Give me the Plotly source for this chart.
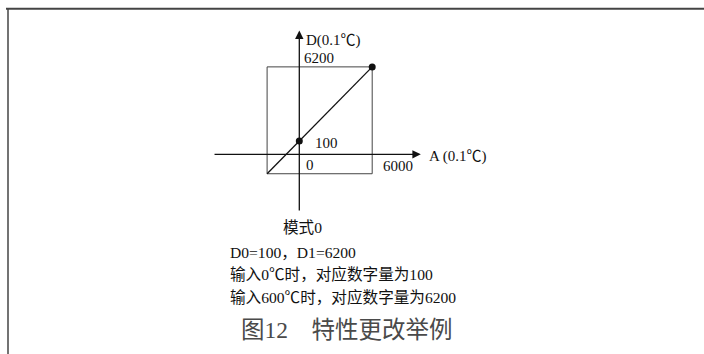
"""Mode 0 characteristic change example (A -> D) drawn as a schematic with Plotly."""

import plotly.graph_objects as go

# characteristic points: input A and output D, both in 0.1 degC
a_points = [0, 6000]
d_points = [100, 6200]
a_tick_labels = ["0", "6000"]
d_tick_labels = ["100", "6200"]
mode_label = "模式0"
figure_title = "图12　特性更改举例"

# schematic extents (not to scale)
line_a_start = -2650
axis_a_span = [-7100, 10000]
axis_d_level = -1000
axis_d_span = [-5750, 9200]

# screen mapping: equal units per pixel on both axes
W, H = 704, 354
UNITS_PER_PX = 82.3
ORIGIN_PX = (299.3, 141.0)  # pixel position of (A=0, D=100)

FONT = "Liberation Serif, Noto Sans CJK SC"
INK = "#111111"


def px(x, y):
    return x / W, 1 - y / H


slope = (d_points[1] - d_points[0]) / (a_points[1] - a_points[0])
line_d_start = d_points[0] + slope * (line_a_start - a_points[0])

x_range = [-ORIGIN_PX[0] * UNITS_PER_PX, (W - ORIGIN_PX[0]) * UNITS_PER_PX]
y_range = [d_points[0] - (H - ORIGIN_PX[1]) * UNITS_PER_PX, d_points[0] + ORIGIN_PX[1] * UNITS_PER_PX]

fig = go.Figure()

# range box
fig.add_trace(
    go.Scatter(
        x=[line_a_start, a_points[1], a_points[1], line_a_start, line_a_start],
        y=[line_d_start, line_d_start, d_points[1], d_points[1], line_d_start],
        mode="lines",
        line=dict(color="#444444", width=1),
        hoverinfo="skip",
    )
)

# characteristic line
fig.add_trace(
    go.Scatter(
        x=[line_a_start, a_points[1]],
        y=[line_d_start, d_points[1]],
        mode="lines",
        line=dict(color=INK, width=1.3),
        hoverinfo="skip",
    )
)
fig.add_trace(
    go.Scatter(
        x=[a_points[0], a_points[1]],
        y=[d_points[0], d_points[1]],
        mode="markers",
        marker=dict(color=INK, size=7),
        hoverinfo="skip",
    )
)

arrow = dict(
    text="", showarrow=True, axref="x", ayref="y", xref="x", yref="y",
    arrowhead=2, arrowsize=1.3, arrowwidth=1.3, arrowcolor=INK, standoff=0,
)
# A axis
fig.add_annotation(x=axis_a_span[1], y=axis_d_level, ax=axis_a_span[0], ay=axis_d_level, **arrow)
# D axis
fig.add_annotation(x=0, y=axis_d_span[1], ax=0, ay=axis_d_span[0], **arrow)

label = dict(showarrow=False, xref="x", yref="y", xanchor="left", yanchor="middle",
             font=dict(family=FONT, size=15, color=INK))
fig.add_annotation(x=0, y=axis_d_span[1], text="D(0.1℃)", xshift=5, yshift=-10, **label)
fig.add_annotation(x=axis_a_span[1], y=axis_d_level, text="A (0.1℃)", xshift=6, yshift=-2, **label)
fig.add_annotation(x=0, y=d_points[1], text=d_tick_labels[1], xshift=3, yshift=9, **label)
fig.add_annotation(x=0, y=d_points[0], text=d_tick_labels[0], xshift=14, yshift=-2, **label)
fig.add_annotation(x=a_points[0], y=axis_d_level, text=a_tick_labels[0], xshift=5, yshift=-11, **label)
fig.add_annotation(x=a_points[1], y=axis_d_level, text=a_tick_labels[1], xshift=9, yshift=-12, **label)

# notes under the diagram
notes = [
    (281, 227, mode_label),
    (228, 252, f"D0={d_points[0]}，D1={d_points[1]}"),
    (228, 274, f"输入{a_points[0] // 10}℃时，对应数字量为{d_points[0]}"),
    (228, 297, f"输入{a_points[1] // 10}℃时，对应数字量为{d_points[1]}"),
]
for nx, ny, txt in notes:
    x0, y0 = px(nx, ny)
    fig.add_annotation(x=x0, y=y0, xref="paper", yref="paper", text=txt, showarrow=False,
                       xanchor="left", yanchor="middle", font=dict(family=FONT, size=15.6, color=INK))

tx, ty = px(347, 330)
fig.add_annotation(x=tx, y=ty, xref="paper", yref="paper", text=figure_title, showarrow=False,
                   xanchor="center", yanchor="middle", font=dict(family=FONT, size=23.5, color="#4a4a4a"))

# page frame (top and left edges only)
fig.add_shape(type="line", xref="paper", yref="paper", x0=6 / W, x1=1, y0=1 - 8.7 / H, y1=1 - 8.7 / H,
              line=dict(color="#444444", width=2))
fig.add_shape(type="line", xref="paper", yref="paper", x0=8 / W, x1=8 / W, y0=1 - 8 / H, y1=0,
              line=dict(color="#444444", width=1.5))

fig.update_layout(
    width=W,
    height=H,
    autosize=False,
    margin=dict(l=0, r=0, t=0, b=0),
    paper_bgcolor="white",
    plot_bgcolor="white",
    showlegend=False,
    xaxis=dict(range=x_range, visible=False, fixedrange=True),
    yaxis=dict(range=y_range, visible=False, fixedrange=True),
)

# drop the browser's default body margin so the figure sits at the page corner
fig.write_html(
    "out.html",
    config={"displayModeBar": False},
    post_script="document.body.style.margin='0';document.body.style.overflow='hidden';",
)
